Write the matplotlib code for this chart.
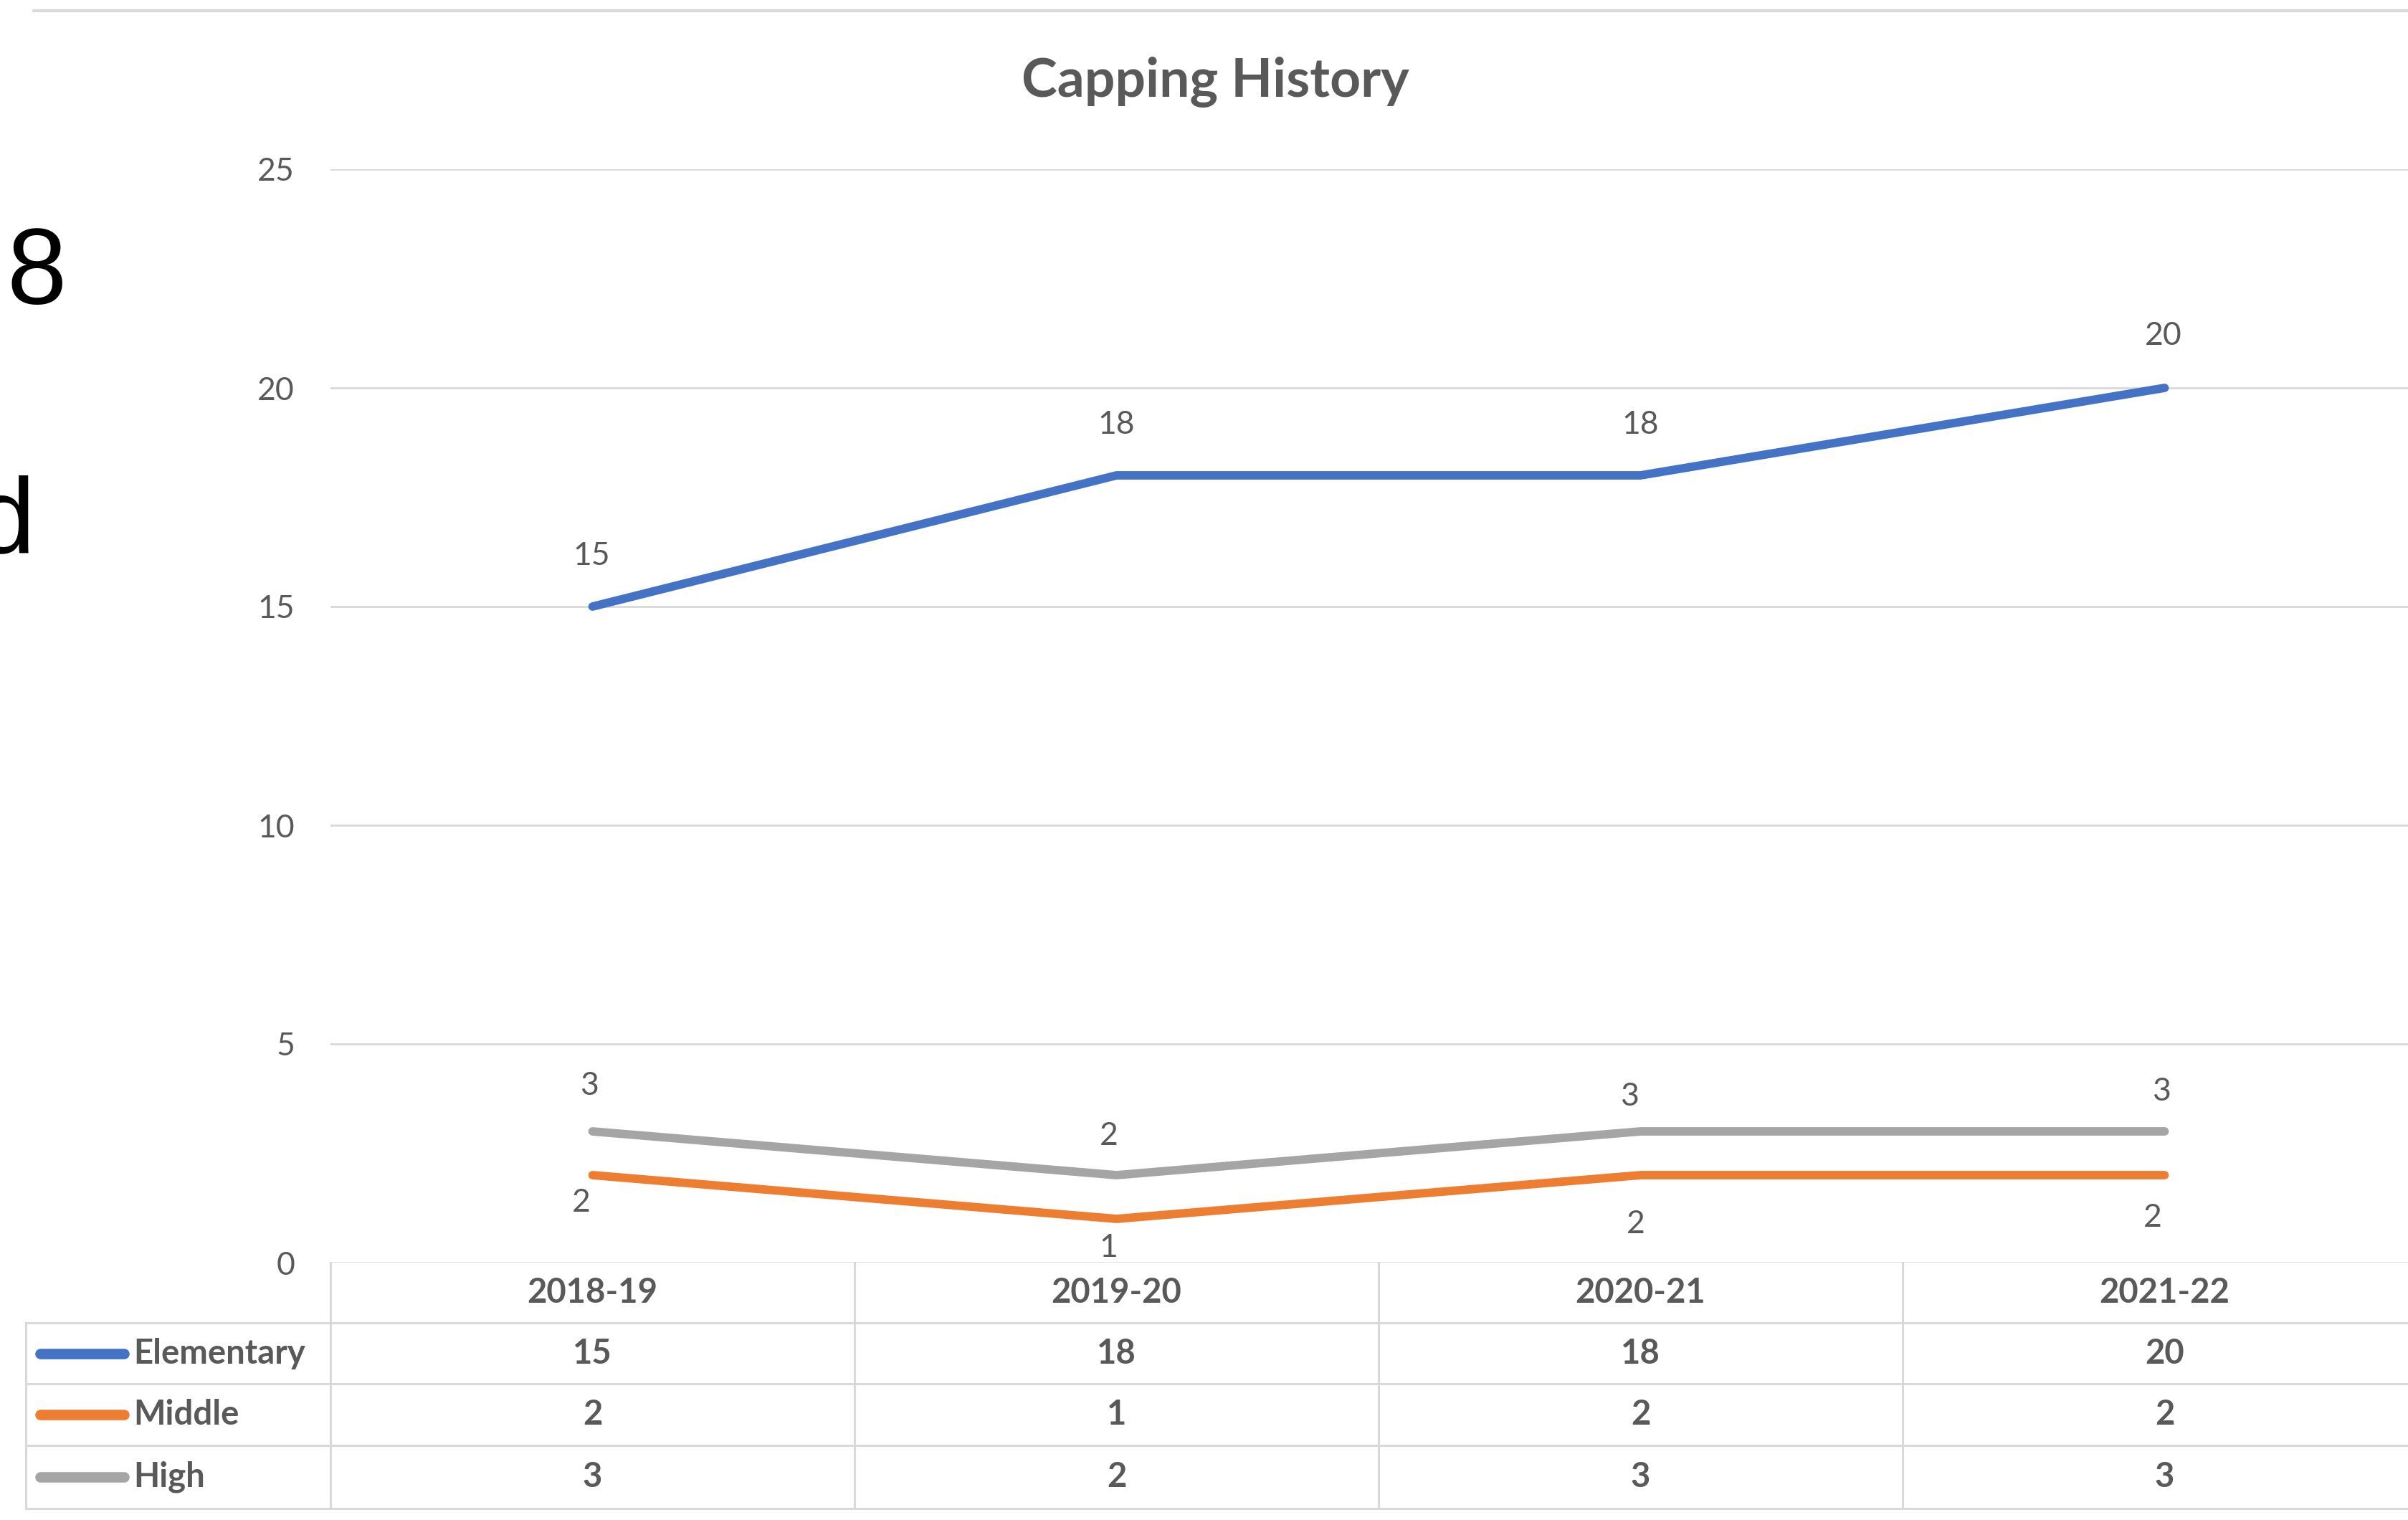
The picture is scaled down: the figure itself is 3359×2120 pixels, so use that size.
import matplotlib.pyplot as plt
import matplotlib.transforms as mtransforms
from matplotlib.lines import Line2D

# data
seasons = ["2018-19", "2019-20", "2020-21", "2021-22"]
series_names = ["Elementary", "Middle", "High"]
elementary = [15, 18, 18, 20]
middle = [2, 1, 2, 2]
high = [3, 2, 3, 3]
y_ticks = [0, 5, 10, 15, 20, 25]

# style
colors = ["#4472C4", "#ED7D31", "#A5A5A5"]
text_gray = "#595959"
grid_gray = "#D9D9D9"
# label offsets in points (dx, dy), Excel nudged them a little
label_offsets = [
    [(-1, 51), (0, 51), (0, 51), (-1, 52)],
    [(-11, -28), (-8, -29), (-5, -49), (-12, -43)],
    [(-3, 46), (-8, 39), (-11, 35), (-3, 40)],
]

plt.rcParams["font.family"] = ["Lato", "DejaVu Sans"]

W, H = 3359, 2120
fig = plt.figure(figsize=(W / 100, H / 100), dpi=100)


def fx(px):
    return px / W


def fy(py):
    return 1 - py / H


ax = fig.add_axes([fx(461), fy(1761), (3385 - 461) / W, (1761 - 236) / H])
x = range(len(seasons))
all_series = [elementary, middle, high]

for vals, col, offs in zip(all_series, colors, label_offsets):
    ax.plot(x, vals, color=col, lw=8.5, solid_capstyle="round", zorder=3)
    for xi, v, (dx, dy) in zip(x, vals, offs):
        ax.annotate(str(v), (xi, v), xytext=(dx, dy), textcoords="offset points",
                    ha="center", va="center", fontsize=32, color=text_gray)

ax.set_xlim(-0.5, len(seasons) - 0.5)
ax.set_ylim(0, 25)
ax.set_yticks(y_ticks)
ax.set_xticks([])
ax.tick_params(axis="y", length=0, pad=36, labelsize=32, labelcolor=text_gray)
ax.yaxis.grid(True, color=grid_gray, lw=2)
ax.set_axisbelow(True)
for s in ax.spines.values():
    s.set_visible(False)

# title
fig.text(fx(1695), fy(114), "Capping History", ha="center", va="center",
         fontsize=54, fontweight="bold", color=text_gray)

# top border of the chart frame
fig.add_artist(Line2D([fx(47), 1], [fy(15), fy(15)], color=grid_gray, lw=3))

# data table
row_edges = [1761, 1845, 1930, 2016, 2104]
blend = mtransforms.blended_transform_factory(ax.transData, fig.transFigure)
for yy in row_edges[1:]:
    fig.add_artist(Line2D([fx(36), 1], [fy(yy), fy(yy)], color=grid_gray, lw=2.2))
fig.add_artist(Line2D([fx(36), fx(36)], [fy(1845), fy(2104)], color=grid_gray, lw=2.2))
for i in range(len(seasons)):
    fig.add_artist(Line2D([i - 0.5, i - 0.5], [fy(1761), fy(2104)],
                          color=grid_gray, lw=2.2, transform=blend))

row_centers = [(a + b) / 2 for a, b in zip(row_edges[:-1], row_edges[1:])]
for i, s in enumerate(seasons):
    fig.text(i, fy(row_centers[0]), s, transform=blend, ha="center", va="center",
             fontsize=34, fontweight="bold", color=text_gray)
for r, (name, vals, col) in enumerate(zip(series_names, all_series, colors)):
    yc = fy(row_centers[r + 1])
    fig.add_artist(Line2D([fx(56), fx(173)], [yc, yc], color=col, lw=10.5,
                          solid_capstyle="round"))
    fig.text(fx(186), yc, name, ha="left", va="center", fontsize=34,
             fontweight="bold", color=text_gray)
    for i, v in enumerate(vals):
        fig.text(i, yc, str(v), transform=blend, ha="center", va="center",
                 fontsize=34, fontweight="bold", color=text_gray)

# bits of slide text peeking in at the left edge
fig.text(fx(51), fy(424), "8", ha="center", va="baseline", fontsize=108,
         family="Liberation Sans", color="black")
fig.text(fx(49), fy(771), "d", ha="right", va="baseline", fontsize=108,
         family="Liberation Sans", color="black")

fig.savefig("out.png", dpi=100, facecolor="white")
